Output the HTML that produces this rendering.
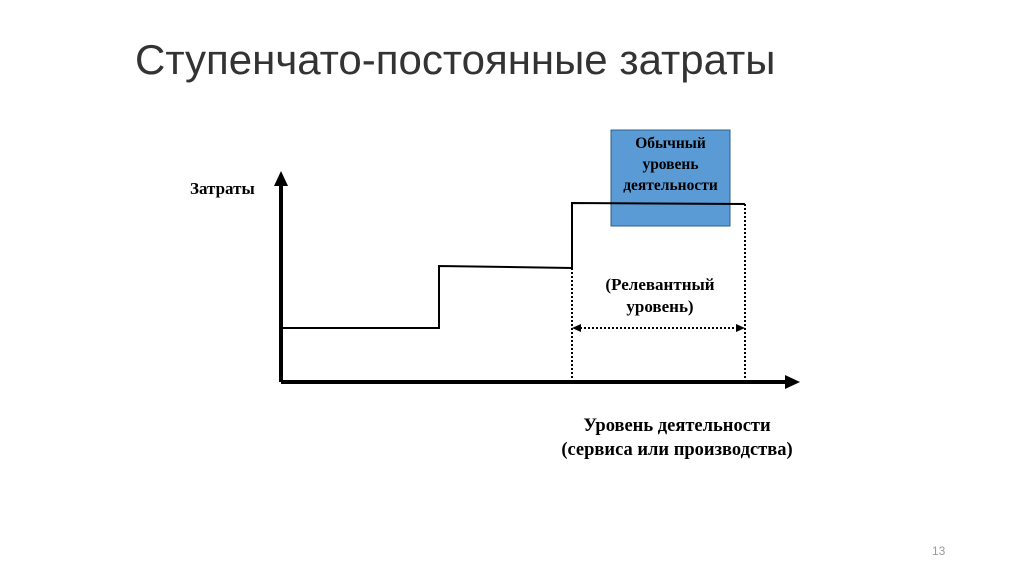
<!DOCTYPE html>
<html><head><meta charset="utf-8"><style>
body{margin:0;width:1024px;height:574px;background:#fff;overflow:hidden;position:relative;font-family:"Liberation Serif",serif}
.t{position:absolute;left:135px;top:36px;font-family:"Liberation Sans",sans-serif;font-size:42px;color:#333}
.b{font-weight:bold;position:absolute;text-align:center;color:#000;white-space:nowrap}
</style></head><body>
<div class="t">Ступенчато-постоянные затраты</div>
<svg width="1024" height="574" style="position:absolute;left:0;top:0">
<rect x="611" y="130" width="119" height="96" fill="#5b9bd5" stroke="#2e5f8a" stroke-width="1"/>
<line x1="281" y1="382" x2="787" y2="382" stroke="#000" stroke-width="4"/>
<polygon points="800,382 785,375 785,389" fill="#000"/>
<line x1="281" y1="382" x2="281" y2="184" stroke="#000" stroke-width="4"/>
<polygon points="281,171 274,186 288,186" fill="#000"/>
<polyline points="281,328 439,328 439,266 572,268 572,262" fill="none" stroke="#000" stroke-width="2"/>
<polyline points="572,262 572,203 745,204" fill="none" stroke="#000" stroke-width="2"/>
<line x1="572" y1="268" x2="572" y2="380" stroke="#000" stroke-width="2" stroke-dasharray="2,2"/>
<line x1="745" y1="204" x2="745" y2="380" stroke="#000" stroke-width="2" stroke-dasharray="2,2"/>
<line x1="580" y1="328" x2="737" y2="328" stroke="#000" stroke-width="2" stroke-dasharray="2,2"/>
<polygon points="572,328 581,324 581,332" fill="#000"/>
<polygon points="745,328 736,324 736,332" fill="#000"/>
<text x="932" y="555" font-family="Liberation Sans" font-size="12" fill="#999">13</text>
</svg>
<div class="b" style="left:190px;top:179px;font-size:17px">Затраты</div>
<div class="b" style="left:600px;top:133px;width:141px;font-size:15.5px;line-height:21px">Обычный<br>уровень<br>деятельности</div>
<div class="b" style="left:560px;top:274px;width:200px;font-size:17px;line-height:22px">(Релевантный<br>уровень)</div>
<div class="b" style="left:527px;top:414px;width:300px;font-size:18.5px;line-height:24px">Уровень деятельности<br>(сервиса или производства)</div>
</body></html>
